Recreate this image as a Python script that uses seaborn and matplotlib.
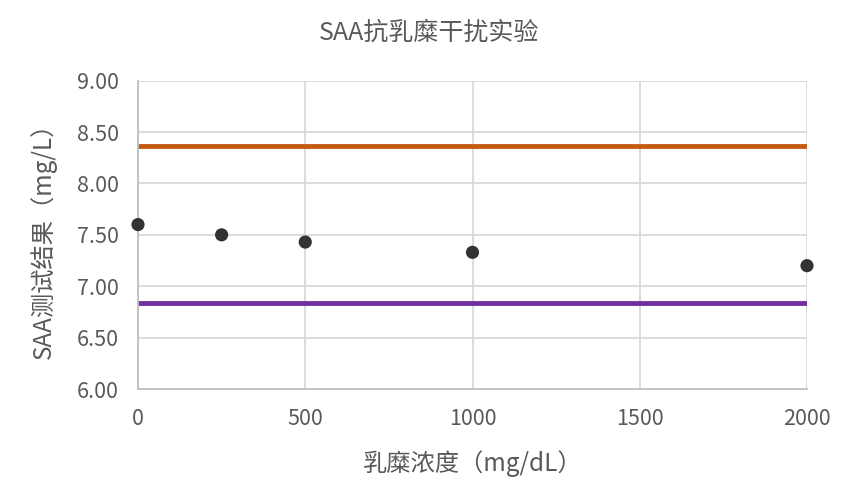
import matplotlib
matplotlib.use("Agg")
import matplotlib.pyplot as plt
import seaborn as sns
import pandas as pd

# 乳糜浓度 (mg/dL) 与 SAA 测试结果 (mg/L)
conc = [0, 250, 500, 1000, 2000]
saa = [7.60, 7.50, 7.43, 7.33, 7.20]
# 上下限
upper_x = [0, 2000]
upper_y = [8.36, 8.36]
lower_x = [0, 2000]
lower_y = [6.84, 6.84]
xticks = [0, 500, 1000, 1500, 2000]
yticks = [6.0, 6.5, 7.0, 7.5, 8.0, 8.5, 9.0]

sns.set_theme(style="whitegrid")
plt.rcParams['font.family'] = ['Noto Sans CJK SC', 'DejaVu Sans']

fig = plt.figure(figsize=(8.59, 5.01), dpi=100)
ax = fig.add_axes([138/859, 1 - 389/501, (807-138)/859, (389-80.7)/501])

df = pd.DataFrame({"x": conc, "y": saa})
sns.lineplot(x=upper_x, y=upper_y, ax=ax, color="#c55a11", linewidth=3.5)
sns.lineplot(x=lower_x, y=lower_y, ax=ax, color="#7030a0", linewidth=3.5)
sns.scatterplot(data=df, x="x", y="y", ax=ax, color="#333333", s=90,
                edgecolor="none", zorder=5, clip_on=False)

ax.set_xlim(0, 2000)
ax.set_ylim(6.0, 9.0)
ax.set_xticks(xticks)
ax.set_yticks(yticks)
ax.set_yticklabels([f"{v:.2f}" for v in yticks])
ax.grid(True, color="#d9d9d9", linewidth=1.3)
for s in ["top", "right"]:
    ax.spines[s].set_visible(False)
for s in ["left", "bottom"]:
    ax.spines[s].set_color("#bfbfbf")
    ax.spines[s].set_linewidth(1.3)
ax.tick_params(axis="both", colors="#595959", labelsize=15.5, length=0)
ax.tick_params(axis="y", pad=14)
ax.tick_params(axis="x", pad=14)

ax.set_xlabel("乳糜浓度（mg/dL）", fontsize=17.5, color="#595959", labelpad=14)
ax.set_ylabel("SAA测试结果（mg/L）", fontsize=17.5, color="#595959", labelpad=14)
fig.suptitle("SAA抗乳糜干扰实验", fontsize=18, color="#595959", y=1 - 33/501, va="center")

fig.savefig("out.png", dpi=100, facecolor="white")
